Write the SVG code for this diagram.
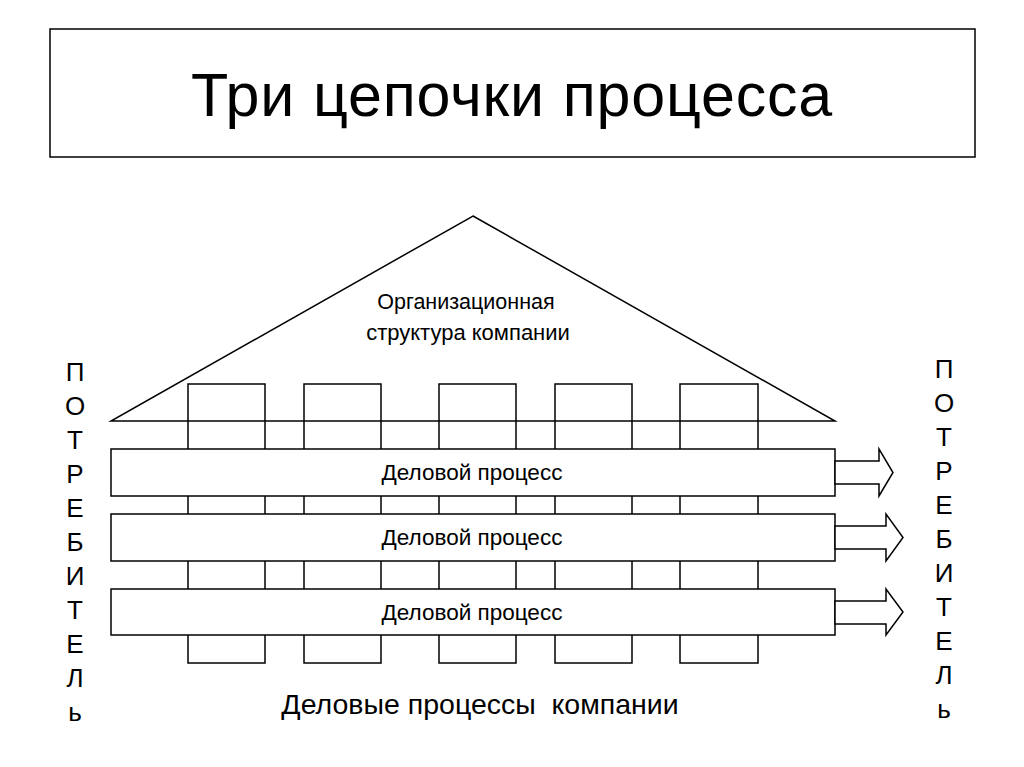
<svg xmlns="http://www.w3.org/2000/svg" width="1024" height="767" viewBox="0 0 1024 767">
<style>
.ln{fill:none;stroke:#000;stroke-width:1.5}
.bar{fill:#fff;stroke:#000;stroke-width:1.5}
.t{font-family:"Liberation Sans",Arial,sans-serif;fill:#000;text-anchor:middle}
.dp{font-size:22.5px}
</style>
<rect width="1024" height="767" fill="#fff"/>
<g id="title">
<rect x="50" y="29" width="925" height="128" class="ln"/>
<text x="512" y="116" class="t" font-size="61" letter-spacing="0.8">Три цепочки процесса</text>
</g>
<g id="columns">
<rect x="188" y="384" width="77" height="279" class="ln"/>
<rect x="304" y="384" width="77" height="279" class="ln"/>
<rect x="439" y="384" width="77" height="279" class="ln"/>
<rect x="555" y="384" width="77" height="279" class="ln"/>
<rect x="680" y="384" width="78" height="279" class="ln"/>
</g>
<g id="roof">
<polygon points="473,216 835,421 111,421" class="ln"/>
<text x="466" y="309" class="t" font-size="21.5">Организационная</text>
<text x="468" y="340" class="t" font-size="22">структура компании</text>
</g>
<g id="process1">
<rect x="111" y="449" width="724" height="47" class="bar"/>
<polygon points="835,461 879,461 879,449 893,472.5 879,496 879,484 835,484" class="bar"/>
<text x="472" y="480" class="t dp">Деловой процесс</text>
</g>
<g id="process2">
<rect x="111" y="514" width="724" height="47" class="bar"/>
<polygon points="835,526 886,526 886,514 903,537.5 886,561 886,549 835,549" class="bar"/>
<text x="472" y="545" class="t dp">Деловой процесс</text>
</g>
<g id="process3">
<rect x="111" y="589" width="724" height="46" class="bar"/>
<polygon points="835,601 886,601 886,589 903,612 886,635 886,624 835,624" class="bar"/>
<text x="472" y="620" class="t dp">Деловой процесс</text>
</g>
<g id="consumer-left" class="t" font-size="26">
<text x="75" y="381">П</text>
<text x="75" y="415">О</text>
<text x="75" y="449">Т</text>
<text x="75" y="483">Р</text>
<text x="75" y="517">Е</text>
<text x="75" y="551">Б</text>
<text x="75" y="585">И</text>
<text x="75" y="619">Т</text>
<text x="75" y="653">Е</text>
<text x="75" y="687">Л</text>
<text x="75" y="721">ь</text>
</g>
<g id="consumer-right" class="t" font-size="26">
<text x="944" y="378">П</text>
<text x="944" y="412">О</text>
<text x="944" y="446">Т</text>
<text x="944" y="480">Р</text>
<text x="944" y="514">Е</text>
<text x="944" y="548">Б</text>
<text x="944" y="582">И</text>
<text x="944" y="616">Т</text>
<text x="944" y="650">Е</text>
<text x="944" y="684">Л</text>
<text x="944" y="718">ь</text>
</g>
<g id="footer">
<text x="480" y="714" class="t" font-size="28.5" xml:space="preserve">Деловые процессы  компании</text>
</g>
</svg>
